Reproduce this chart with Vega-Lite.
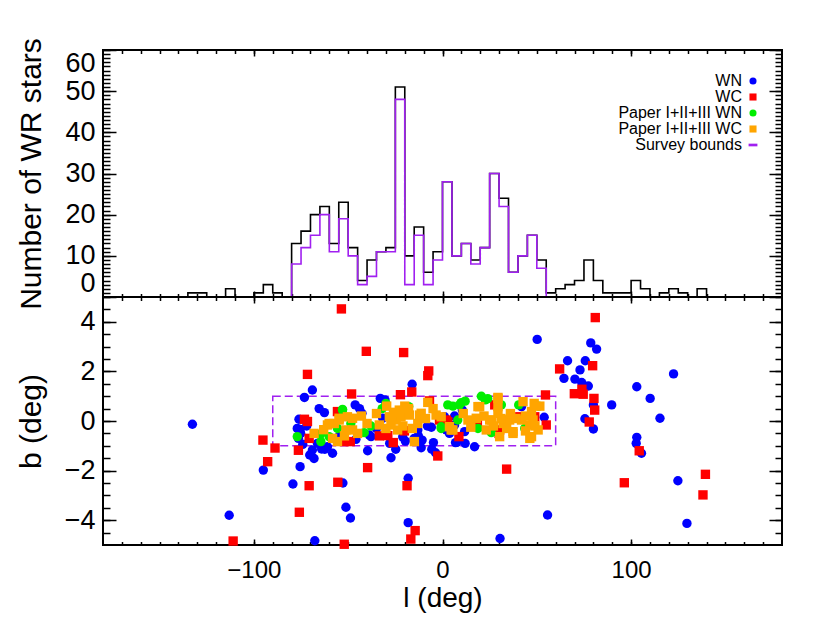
{
  "$schema": "https://vega.github.io/schema/vega-lite/v6.json",
  "autosize": {"type": "none"},
  "padding": {"left": 103, "top": 50, "right": 727, "bottom": 573},
  "background": "white",
  "config": {
    "font": "Liberation Sans",
    "view": {"stroke": "black", "strokeWidth": 2},
    "axis": {"domain": false, "grid": false, "tickColor": "black", "tickWidth": 1.5, "labelColor": "black", "titleColor": "black", "labelFont": "Liberation Sans", "titleFont": "Liberation Sans", "labelFontSize": 27, "titleFontSize": 30, "titleFontWeight": "normal"}
  },
  "datasets": {
    "all": [
      {"l": -180, "n": 0}, {"l": -140, "n": 0}, {"l": -135, "n": 1}, {"l": -130, "n": 1}, {"l": -125, "n": 0}, {"l": -120, "n": 0},
      {"l": -115, "n": 2}, {"l": -110, "n": 0}, {"l": -105, "n": 0}, {"l": -100, "n": 1}, {"l": -95, "n": 3}, {"l": -90, "n": 1},
      {"l": -85, "n": 0}, {"l": -80, "n": 13}, {"l": -75, "n": 16}, {"l": -70, "n": 20}, {"l": -65, "n": 22}, {"l": -60, "n": 13},
      {"l": -55, "n": 23}, {"l": -50, "n": 12}, {"l": -45, "n": 4}, {"l": -40, "n": 9}, {"l": -35, "n": 11}, {"l": -30, "n": 12},
      {"l": -25, "n": 51}, {"l": -20, "n": 10}, {"l": -15, "n": 17}, {"l": -10, "n": 6}, {"l": -5, "n": 11}, {"l": 0, "n": 28},
      {"l": 5, "n": 10}, {"l": 10, "n": 13}, {"l": 15, "n": 9}, {"l": 20, "n": 12}, {"l": 25, "n": 30}, {"l": 30, "n": 24},
      {"l": 35, "n": 6}, {"l": 40, "n": 10}, {"l": 45, "n": 15}, {"l": 50, "n": 9}, {"l": 55, "n": 1}, {"l": 60, "n": 2},
      {"l": 65, "n": 3}, {"l": 70, "n": 4}, {"l": 75, "n": 9}, {"l": 80, "n": 4}, {"l": 85, "n": 1}, {"l": 90, "n": 1},
      {"l": 95, "n": 1}, {"l": 100, "n": 4}, {"l": 105, "n": 2}, {"l": 110, "n": 0}, {"l": 115, "n": 1}, {"l": 120, "n": 2},
      {"l": 125, "n": 1}, {"l": 130, "n": 0}, {"l": 135, "n": 2}, {"l": 140, "n": 0}, {"l": 180, "n": 0}
    ],
    "surv": [
      {"l": -80, "n": 0}, {"l": -80, "n": 8}, {"l": -75, "n": 12}, {"l": -70, "n": 15}, {"l": -65, "n": 20}, {"l": -60, "n": 11},
      {"l": -55, "n": 19}, {"l": -50, "n": 10}, {"l": -45, "n": 3}, {"l": -40, "n": 5}, {"l": -35, "n": 11}, {"l": -30, "n": 11},
      {"l": -25, "n": 48}, {"l": -20, "n": 3}, {"l": -15, "n": 15}, {"l": -10, "n": 3}, {"l": -5, "n": 9}, {"l": 0, "n": 28},
      {"l": 5, "n": 10}, {"l": 10, "n": 13}, {"l": 15, "n": 8}, {"l": 20, "n": 12}, {"l": 25, "n": 30}, {"l": 30, "n": 22},
      {"l": 35, "n": 6}, {"l": 40, "n": 10}, {"l": 45, "n": 15}, {"l": 50, "n": 7}, {"l": 55, "n": 0}
    ],
    "box": [{"l1": -90, "l2": 60, "b1": -1, "b2": 1}],
    "pts": [
      {"c": "WN", "l": -132.6, "b": -0.13}, {"c": "WN", "l": -113.1, "b": -3.8}, {"c": "WN", "l": -67.7, "b": -4.83},
      {"c": "WN", "l": -95, "b": -1.98}, {"c": "WN", "l": -79.3, "b": -2.54}, {"c": "WN", "l": -75.5, "b": -1.84},
      {"c": "WN", "l": -52.8, "b": -2.5}, {"c": "WN", "l": -51.2, "b": -3.48}, {"c": "WN", "l": -48.8, "b": -3.91},
      {"c": "WN", "l": -18.2, "b": -2.31}, {"c": "WN", "l": -18.2, "b": -4.1}, {"c": "WN", "l": -69, "b": 1.25},
      {"c": "WN", "l": -73.2, "b": 0.95}, {"c": "WN", "l": -16.1, "b": 1.48}, {"c": "WN", "l": -65.4, "b": 0.5},
      {"c": "WN", "l": -62.6, "b": 0.34}, {"c": "WN", "l": -46.3, "b": 0.65}, {"c": "WN", "l": -42.7, "b": 0.31},
      {"c": "WN", "l": -33, "b": 0.91}, {"c": "WN", "l": -30.5, "b": 0.85}, {"c": "WN", "l": -76.1, "b": 0.07},
      {"c": "WN", "l": -39.7, "b": -1.2}, {"c": "WN", "l": -27.3, "b": -1.48}, {"c": "WN", "l": -24.8, "b": -1.14},
      {"c": "WN", "l": -11.3, "b": -1.08}, {"c": "WN", "l": -12.8, "b": -0.6}, {"c": "WN", "l": -4.8, "b": -0.87},
      {"c": "WN", "l": -5.7, "b": -1.14}, {"c": "WN", "l": -3.7, "b": -1.28}, {"c": "WN", "l": -5.9, "b": -0.25},
      {"c": "WN", "l": -19.7, "b": -0.81}, {"c": "WN", "l": -21.1, "b": -0.64}, {"c": "WN", "l": -58.3, "b": -1.3},
      {"c": "WN", "l": -68.1, "b": -1.51}, {"c": "WN", "l": -70.4, "b": -1.37}, {"c": "WN", "l": -62.4, "b": -1.14},
      {"c": "WN", "l": -64.1, "b": -1.13}, {"c": "WN", "l": -74.1, "b": -0.94}, {"c": "WN", "l": -75.5, "b": -0.34},
      {"c": "WN", "l": -76.4, "b": -0.7}, {"c": "WN", "l": 6.4, "b": 0.2}, {"c": "WN", "l": 6.9, "b": -0.87},
      {"c": "WN", "l": 50.2, "b": 3.29}, {"c": "WN", "l": 78.6, "b": 3.15}, {"c": "WN", "l": 81.7, "b": 2.9},
      {"c": "WN", "l": 66.3, "b": 2.43}, {"c": "WN", "l": 75.7, "b": 2.43}, {"c": "WN", "l": 72.9, "b": 2.06},
      {"c": "WN", "l": 64.4, "b": 1.72}, {"c": "WN", "l": 70.2, "b": 1.69}, {"c": "WN", "l": 73.8, "b": 1.55},
      {"c": "WN", "l": 77.3, "b": 1.41}, {"c": "WN", "l": 80, "b": 0.65}, {"c": "WN", "l": 75.5, "b": 0.09},
      {"c": "WN", "l": 80, "b": -0.32}, {"c": "WN", "l": 89.7, "b": 0.65}, {"c": "WN", "l": 103, "b": 1.38},
      {"c": "WN", "l": 110.1, "b": 0.91}, {"c": "WN", "l": 115.3, "b": 0.11}, {"c": "WN", "l": 122.5, "b": 1.9},
      {"c": "WN", "l": 103, "b": -0.66}, {"c": "WN", "l": 102.7, "b": -0.9}, {"c": "WN", "l": 105.5, "b": -1.3},
      {"c": "WN", "l": 124.8, "b": -2.41}, {"c": "WN", "l": 129.6, "b": -4.13}, {"c": "WN", "l": 55.7, "b": -3.79},
      {"c": "WN", "l": 30.5, "b": -4.74}, {"c": "WN", "l": 53.9, "b": 0.15}, {"c": "WN", "l": 17, "b": -1.04},
      {"c": "WN", "l": 7.6, "b": -0.86}, {"c": "WN", "l": -77, "b": -0.3}, {"c": "WN", "l": -75.2, "b": -0.5},
      {"c": "WN", "l": -66.3, "b": -0.9}, {"c": "WN", "l": -61, "b": -1.04}, {"c": "WN", "l": -45.9, "b": -0.74},
      {"c": "WN", "l": -10.8, "b": -0.77}, {"c": "WN", "l": -13.1, "b": -0.36}, {"c": "WN", "l": -38.8, "b": -0.56},
      {"c": "WN", "l": -31.7, "b": 0.11}, {"c": "WN", "l": -20.2, "b": -0.36}, {"c": "WN", "l": 1.1, "b": 0.17},
      {"c": "WN", "l": 6.4, "b": -0.16}, {"c": "WN", "l": 11.7, "b": -0.43}, {"c": "WN", "l": 41.9, "b": 0.58},
      {"c": "WN", "l": 10.5, "b": 0.44}, {"c": "WN", "l": -37.9, "b": -0.63}, {"c": "WN", "l": -54.8, "b": -0.63},
      {"c": "WN", "l": 0.2, "b": 0.11}, {"c": "WN", "l": 2, "b": -0.36}, {"c": "WN", "l": -69, "b": -1.17},
      {"c": "WN", "l": -62.8, "b": -1.1}, {"c": "WN", "l": 3.7, "b": -0.5}, {"c": "WN", "l": -35, "b": -0.3},
      {"c": "WN", "l": -28, "b": -0.9}, {"c": "WN", "l": -15, "b": -0.7}, {"c": "WN", "l": -8, "b": -0.2},
      {"c": "WN", "l": 12, "b": -0.9}, {"c": "WN", "l": -44, "b": 0.5}, {"c": "WN", "l": -72, "b": -0.2},
      {"c": "WC", "l": -53.6, "b": 4.52}, {"c": "WC", "l": -40.4, "b": 2.81}, {"c": "WC", "l": -20.6, "b": 2.76},
      {"c": "WC", "l": -71.6, "b": 1.88}, {"c": "WC", "l": -7.3, "b": 2.02}, {"c": "WC", "l": -7.8, "b": 1.83},
      {"c": "WC", "l": -48.2, "b": 1.09}, {"c": "WC", "l": -16.3, "b": 1.17}, {"c": "WC", "l": -22.3, "b": 1.06},
      {"c": "WC", "l": -6.9, "b": 0.81}, {"c": "WC", "l": -73.2, "b": 0.07}, {"c": "WC", "l": -71.6, "b": -0.02},
      {"c": "WC", "l": -95.2, "b": -0.77}, {"c": "WC", "l": -88.8, "b": -1.09}, {"c": "WC", "l": -92.7, "b": -1.64},
      {"c": "WC", "l": -76.4, "b": -1.18}, {"c": "WC", "l": -48.9, "b": -0.83}, {"c": "WC", "l": -26.1, "b": -0.87},
      {"c": "WC", "l": -2.5, "b": -1.41}, {"c": "WC", "l": -39.7, "b": -1.88}, {"c": "WC", "l": -55.5, "b": -2.47},
      {"c": "WC", "l": -70.7, "b": -2.61}, {"c": "WC", "l": -18.8, "b": -2.61}, {"c": "WC", "l": -75.9, "b": -3.68},
      {"c": "WC", "l": -14.5, "b": -4.42}, {"c": "WC", "l": -16.8, "b": -4.76}, {"c": "WC", "l": -111, "b": -4.84},
      {"c": "WC", "l": -52.1, "b": -4.97}, {"c": "WC", "l": 8.7, "b": -0.63}, {"c": "WC", "l": 81, "b": 4.17},
      {"c": "WC", "l": 79.6, "b": 2.23}, {"c": "WC", "l": 62.1, "b": 2.1}, {"c": "WC", "l": 73.9, "b": 1.28},
      {"c": "WC", "l": 69.9, "b": 1.1}, {"c": "WC", "l": 74.6, "b": 1.08}, {"c": "WC", "l": 80.3, "b": 0.91},
      {"c": "WC", "l": 80.7, "b": 0.44}, {"c": "WC", "l": 77.8, "b": -0.04}, {"c": "WC", "l": 54.6, "b": 1.05},
      {"c": "WC", "l": 55, "b": -0.16}, {"c": "WC", "l": 34, "b": -1.94}, {"c": "WC", "l": 104.3, "b": -1.2},
      {"c": "WC", "l": 96.4, "b": -2.49}, {"c": "WC", "l": 139.4, "b": -2.15}, {"c": "WC", "l": 138.1, "b": -2.98},
      {"c": "WC", "l": -55.7, "b": 0.38}, {"c": "WC", "l": -70.7, "b": -0.7}, {"c": "WC", "l": -52.1, "b": -0.83},
      {"c": "WC", "l": -33.5, "b": -0.6}, {"c": "WC", "l": -1.6, "b": 0.04}, {"c": "WC", "l": 2.8, "b": -0.03},
      {"c": "WC", "l": 17.9, "b": -0.1}, {"c": "WC", "l": 30.3, "b": -0.36}, {"c": "WC", "l": 48.9, "b": 0.17},
      {"c": "WC", "l": 2, "b": 0.04}, {"c": "WC", "l": 27.7, "b": 0.65}, {"c": "WC", "l": 41, "b": 0.17},
      {"c": "WC", "l": 18.5, "b": -0.16}, {"c": "WC", "l": 30, "b": -0.5}, {"c": "WC", "l": -29, "b": -0.59},
      {"c": "WC", "l": -20.2, "b": -0.4},
      {"c": "Paper I+II+III WN", "l": -53, "b": 0.44}, {"c": "Paper I+II+III WN", "l": -77, "b": -0.63},
      {"c": "Paper I+II+III WN", "l": -64.5, "b": -0.52}, {"c": "Paper I+II+III WN", "l": -64.5, "b": -0.83},
      {"c": "Paper I+II+III WN", "l": -60.1, "b": -0.63}, {"c": "Paper I+II+III WN", "l": -55.7, "b": -0.3},
      {"c": "Paper I+II+III WN", "l": -48.6, "b": -0.1}, {"c": "Paper I+II+III WN", "l": -30, "b": 0.71},
      {"c": "Paper I+II+III WN", "l": -17.9, "b": 0.58}, {"c": "Paper I+II+III WN", "l": -37.9, "b": -0.2},
      {"c": "Paper I+II+III WN", "l": -41.5, "b": -0.47}, {"c": "Paper I+II+III WN", "l": -0.7, "b": -0.3},
      {"c": "Paper I+II+III WN", "l": 5.5, "b": 0.6}, {"c": "Paper I+II+III WN", "l": 9.9, "b": 0.74},
      {"c": "Paper I+II+III WN", "l": 20.6, "b": 1.0}, {"c": "Paper I+II+III WN", "l": 22.7, "b": 0.85},
      {"c": "Paper I+II+III WN", "l": 31.2, "b": 0.65}, {"c": "Paper I+II+III WN", "l": 40.4, "b": 0.65},
      {"c": "Paper I+II+III WN", "l": 18.8, "b": -0.3}, {"c": "Paper I+II+III WN", "l": 25.9, "b": -0.47},
      {"c": "Paper I+II+III WN", "l": 43.6, "b": -0.3}, {"c": "Paper I+II+III WN", "l": 8.1, "b": 0.04},
      {"c": "Paper I+II+III WN", "l": 2.8, "b": 0.65}, {"c": "Paper I+II+III WN", "l": -0.7, "b": -0.23},
      {"c": "Paper I+II+III WN", "l": 9, "b": 0.65}, {"c": "Paper I+II+III WN", "l": 51, "b": 0.6},
      {"c": "Paper I+II+III WN", "l": -53, "b": 0.47}, {"c": "Paper I+II+III WN", "l": -32, "b": 0.5},
      {"c": "Paper I+II+III WN", "l": 24, "b": 0.9}, {"c": "Paper I+II+III WN", "l": 12, "b": 0.8},
      {"c": "Paper I+II+III WC", "l": -68.1, "b": -0.5}, {"c": "Paper I+II+III WC", "l": -61, "b": -0.16},
      {"c": "Paper I+II+III WC", "l": -57.4, "b": -0.1}, {"c": "Paper I+II+III WC", "l": -54.8, "b": 0.04},
      {"c": "Paper I+II+III WC", "l": -50.4, "b": 0.17}, {"c": "Paper I+II+III WC", "l": -51.2, "b": -0.36},
      {"c": "Paper I+II+III WC", "l": -58.3, "b": -0.7}, {"c": "Paper I+II+III WC", "l": -55.7, "b": -0.83},
      {"c": "Paper I+II+III WC", "l": -29.6, "b": 0.6}, {"c": "Paper I+II+III WC", "l": -7.8, "b": 0.75},
      {"c": "Paper I+II+III WC", "l": -22.9, "b": 0.44}, {"c": "Paper I+II+III WC", "l": -28.2, "b": 0.17},
      {"c": "Paper I+II+III WC", "l": -24.6, "b": 0.04}, {"c": "Paper I+II+III WC", "l": -22, "b": 0.17},
      {"c": "Paper I+II+III WC", "l": -17.6, "b": 0.24}, {"c": "Paper I+II+III WC", "l": -11.3, "b": 0.31},
      {"c": "Paper I+II+III WC", "l": -13.1, "b": -0.1}, {"c": "Paper I+II+III WC", "l": -3.4, "b": 0.24},
      {"c": "Paper I+II+III WC", "l": -47.7, "b": -0.36}, {"c": "Paper I+II+III WC", "l": -47.7, "b": 0.11},
      {"c": "Paper I+II+III WC", "l": -33.5, "b": -0.16}, {"c": "Paper I+II+III WC", "l": -30, "b": -0.3},
      {"c": "Paper I+II+III WC", "l": -23.8, "b": -0.36}, {"c": "Paper I+II+III WC", "l": -27.3, "b": -0.16},
      {"c": "Paper I+II+III WC", "l": -14.9, "b": -0.83}, {"c": "Paper I+II+III WC", "l": 18.8, "b": 0.58},
      {"c": "Paper I+II+III WC", "l": 29.4, "b": 0.95}, {"c": "Paper I+II+III WC", "l": 29.4, "b": 0.58},
      {"c": "Paper I+II+III WC", "l": 42.7, "b": 0.78}, {"c": "Paper I+II+III WC", "l": 48.6, "b": 0.71},
      {"c": "Paper I+II+III WC", "l": 51.6, "b": 0.6}, {"c": "Paper I+II+III WC", "l": 47.2, "b": 0.38},
      {"c": "Paper I+II+III WC", "l": 13.5, "b": 0.04}, {"c": "Paper I+II+III WC", "l": 17.9, "b": 0.11},
      {"c": "Paper I+II+III WC", "l": 5.5, "b": -0.36}, {"c": "Paper I+II+III WC", "l": 23.2, "b": -0.36},
      {"c": "Paper I+II+III WC", "l": 25.9, "b": 0.04}, {"c": "Paper I+II+III WC", "l": 29.4, "b": 0.31},
      {"c": "Paper I+II+III WC", "l": 32.1, "b": -0.1}, {"c": "Paper I+II+III WC", "l": 30.3, "b": -0.63},
      {"c": "Paper I+II+III WC", "l": 37.4, "b": -0.43}, {"c": "Paper I+II+III WC", "l": 41.9, "b": 0.04},
      {"c": "Paper I+II+III WC", "l": 47.2, "b": -0.63}, {"c": "Paper I+II+III WC", "l": 50.7, "b": -0.36},
      {"c": "Paper I+II+III WC", "l": 46.3, "b": -0.16}, {"c": "Paper I+II+III WC", "l": 35.6, "b": 0.04},
      {"c": "Paper I+II+III WC", "l": 3.7, "b": -0.23}, {"c": "Paper I+II+III WC", "l": 46.3, "b": -0.7},
      {"c": "Paper I+II+III WC", "l": 37.4, "b": -0.5}, {"c": "Paper I+II+III WC", "l": 4.6, "b": -0.36},
      {"c": "Paper I+II+III WC", "l": -0.7, "b": 0.17}, {"c": "Paper I+II+III WC", "l": 19.7, "b": 0.58},
      {"c": "Paper I+II+III WC", "l": 25, "b": 0.04}, {"c": "Paper I+II+III WC", "l": 33.9, "b": 0.04},
      {"c": "Paper I+II+III WC", "l": 48, "b": 0.04}, {"c": "Paper I+II+III WC", "l": -12.2, "b": 0.24},
      {"c": "Paper I+II+III WC", "l": -54.8, "b": 0.11}, {"c": "Paper I+II+III WC", "l": -60.1, "b": -0.1},
      {"c": "Paper I+II+III WC", "l": 29.4, "b": 0.91}, {"c": "Paper I+II+III WC", "l": -35, "b": 0.3},
      {"c": "Paper I+II+III WC", "l": -20, "b": 0.6}, {"c": "Paper I+II+III WC", "l": -5, "b": 0.5},
      {"c": "Paper I+II+III WC", "l": 36, "b": 0.3}, {"c": "Paper I+II+III WC", "l": 44, "b": 0.2},
      {"c": "Paper I+II+III WC", "l": -40, "b": -0.1}, {"c": "Paper I+II+III WC", "l": -26, "b": 0.35},
      {"c": "Paper I+II+III WC", "l": -21, "b": -0.2}, {"c": "Paper I+II+III WC", "l": -18, "b": 0.5},
      {"c": "Paper I+II+III WC", "l": -16, "b": -0.3}, {"c": "Paper I+II+III WC", "l": -9, "b": 0.1},
      {"c": "Paper I+II+III WC", "l": -43, "b": 0.2}, {"c": "Paper I+II+III WC", "l": -45, "b": -0.5},
      {"c": "Paper I+II+III WC", "l": 22, "b": 0.2}, {"c": "Paper I+II+III WC", "l": 27, "b": -0.2},
      {"c": "Paper I+II+III WC", "l": 31, "b": 0.1}, {"c": "Paper I+II+III WC", "l": 34, "b": -0.3},
      {"c": "Paper I+II+III WC", "l": 39, "b": 0.1}, {"c": "Paper I+II+III WC", "l": 44, "b": -0.4},
      {"c": "Paper I+II+III WC", "l": 49, "b": -0.2}, {"c": "Paper I+II+III WC", "l": 15, "b": -0.25},
      {"c": "Paper I+II+III WC", "l": 11, "b": 0.3}, {"c": "Paper I+II+III WC", "l": -63, "b": -0.35},
      {"c": "Paper I+II+III WC", "l": -52, "b": -0.6}
    ]
  },
  "spacing": 0,
  "bounds": "flush",
  "vconcat": [
    {
      "width": 679,
      "height": 247,
      "layer": [
        {
          "data": {"name": "all"},
          "mark": {"type": "line", "interpolate": "step-after", "color": "black", "strokeWidth": 1.6},
          "encoding": {
            "x": {"field": "l", "type": "quantitative", "scale": {"domain": [-180, 180], "nice": false, "zero": false},
                  "axis": {"orient": "bottom", "values": [-100, 0, 100], "labels": false, "tickSize": -6, "title": null}},
            "y": {"field": "n", "type": "quantitative", "scale": {"domain": [0, 60], "nice": false},
                  "axis": {"orient": "left", "values": [0, 10, 20, 30, 40, 50, 60], "tickSize": -13, "labelPadding": 21, "labelFlush": true,
                           "title": "Number of WR stars", "titleX": -57, "titleY": 123.5}}
          }
        },
        {
          "data": {"name": "surv"},
          "mark": {"type": "line", "interpolate": "step-after", "color": "#a020f0", "strokeWidth": 1.6},
          "encoding": {
            "x": {"field": "l", "type": "quantitative",
                  "axis": {"orient": "top", "values": [-100, 0, 100], "labels": false, "tickSize": -6, "title": null}},
            "y": {"field": "n", "type": "quantitative",
                  "axis": {"orient": "right", "values": [0, 10, 20, 30, 40, 50, 60], "labels": false, "tickSize": -13, "title": null}}
          }
        },
        {
          "data": {"name": "all"},
          "mark": {"type": "point", "opacity": 0},
          "encoding": {
            "x": {"field": "l", "type": "quantitative",
                  "axis": {"orient": "bottom", "values": [-170,-160,-150,-140,-130,-120,-110,-100,-90,-80,-70,-60,-50,-40,-30,-20,-10,0,10,20,30,40,50,60,70,80,90,100,110,120,130,140,150,160,170], "labels": false, "tickSize": -3.5, "title": null}},
            "y": {"field": "n", "type": "quantitative",
                  "axis": {"orient": "left", "values": [0,1,2,3,4,5,6,7,8,9,10,11,12,13,14,15,16,17,18,19,20,21,22,23,24,25,26,27,28,29,30,31,32,33,34,35,36,37,38,39,40,41,42,43,44,45,46,47,48,49,50,51,52,53,54,55,56,57,58,59,60], "labels": false, "tickSize": -7, "title": null}}
          }
        },
        {
          "data": {"name": "all"},
          "mark": {"type": "point", "opacity": 0},
          "encoding": {
            "x": {"field": "l", "type": "quantitative",
                  "axis": {"orient": "top", "values": [-170,-160,-150,-140,-130,-120,-110,-100,-90,-80,-70,-60,-50,-40,-30,-20,-10,0,10,20,30,40,50,60,70,80,90,100,110,120,130,140,150,160,170], "labels": false, "tickSize": -3.5, "title": null}},
            "y": {"field": "n", "type": "quantitative",
                  "axis": {"orient": "right", "values": [0,1,2,3,4,5,6,7,8,9,10,11,12,13,14,15,16,17,18,19,20,21,22,23,24,25,26,27,28,29,30,31,32,33,34,35,36,37,38,39,40,41,42,43,44,45,46,47,48,49,50,51,52,53,54,55,56,57,58,59,60], "labels": false, "tickSize": -7, "title": null}}
          }
        }
      ],
      "resolve": {"axis": {"x": "independent", "y": "independent"}}
    },
    {
      "width": 679,
      "height": 248,
      "layer": [
        {
          "data": {"name": "box"},
          "mark": {"type": "rect", "filled": false, "fill": null, "stroke": "#a020f0", "strokeWidth": 1.5, "strokeDash": [8, 4]},
          "encoding": {
            "x": {"field": "l1", "type": "quantitative", "scale": {"domain": [-180, 180], "nice": false, "zero": false},
                  "axis": {"orient": "bottom", "values": [-100, 0, 100], "tickSize": -6, "labelPadding": 19, "labelFontSize": 24, "title": "l (deg)", "titleFontSize": 28, "titleX": 339.5, "titleY": 39}},
            "x2": {"field": "l2"},
            "y": {"field": "b1", "type": "quantitative", "scale": {"domain": [-5, 5], "nice": false, "zero": false},
                  "axis": {"orient": "left", "values": [-4, -2, 0, 2, 4], "tickSize": -13, "labelPadding": 21, "title": "b (deg)", "titleX": -57, "titleY": 124}},
            "y2": {"field": "b2"}
          }
        },
        {
          "data": {"name": "pts"},
          "mark": {"type": "point", "filled": true, "opacity": 1, "size": 88, "strokeWidth": 0},
          "encoding": {
            "x": {"field": "l", "type": "quantitative",
                  "axis": {"orient": "top", "values": [-100, 0, 100], "labels": false, "tickSize": -6, "title": null}},
            "y": {"field": "b", "type": "quantitative",
                  "axis": {"orient": "right", "values": [-4, -2, 0, 2, 4], "labels": false, "tickSize": -13, "title": null}},
            "color": {"field": "c", "type": "nominal",
                      "scale": {"domain": ["WN", "WC", "Paper I+II+III WN", "Paper I+II+III WC", "Survey bounds"], "range": ["#0000ff", "#ff0000", "#00ee00", "#ffa500", "#a020f0"]},
                      "legend": {"orient": "none", "legendX": 642, "legendY": 23, "title": null, "labelAlign": "right", "labelOffset": -19, "labelFontSize": 16, "labelFont": "Liberation Sans", "labelColor": "black", "symbolSize": 50, "rowPadding": 0, "padding": 0, "labelLimit": 400, "symbolStrokeWidth": 0}},
            "shape": {"field": "c", "type": "nominal",
                      "scale": {"domain": ["WN", "WC", "Paper I+II+III WN", "Paper I+II+III WC", "Survey bounds"], "range": ["circle", "square", "circle", "square", "M-1.25,-0.38H1.25V0.38H-1.25Z"]},
                      "legend": {"orient": "none", "legendX": 642, "legendY": 23, "title": null, "labelAlign": "right", "labelOffset": -19, "labelFontSize": 16, "labelFont": "Liberation Sans", "labelColor": "black", "symbolSize": 50, "rowPadding": 0, "padding": 0, "labelLimit": 400, "symbolStrokeWidth": 0}}
          }
        },
        {
          "data": {"name": "pts"},
          "mark": {"type": "point", "opacity": 0},
          "encoding": {
            "x": {"field": "l", "type": "quantitative",
                  "axis": {"orient": "bottom", "values": [-170,-160,-150,-140,-130,-120,-110,-100,-90,-80,-70,-60,-50,-40,-30,-20,-10,0,10,20,30,40,50,60,70,80,90,100,110,120,130,140,150,160,170], "labels": false, "tickSize": -3.5, "title": null}},
            "y": {"field": "b", "type": "quantitative",
                  "axis": {"orient": "left", "values": [-4.5,-4,-3.5,-3,-2.5,-2,-1.5,-1,-0.5,0,0.5,1,1.5,2,2.5,3,3.5,4,4.5], "labels": false, "tickSize": -7, "title": null}}
          }
        },
        {
          "data": {"name": "pts"},
          "mark": {"type": "point", "opacity": 0},
          "encoding": {
            "x": {"field": "l", "type": "quantitative",
                  "axis": {"orient": "top", "values": [-170,-160,-150,-140,-130,-120,-110,-100,-90,-80,-70,-60,-50,-40,-30,-20,-10,0,10,20,30,40,50,60,70,80,90,100,110,120,130,140,150,160,170], "labels": false, "tickSize": -3.5, "title": null}},
            "y": {"field": "b", "type": "quantitative",
                  "axis": {"orient": "right", "values": [-4.5,-4,-3.5,-3,-2.5,-2,-1.5,-1,-0.5,0,0.5,1,1.5,2,2.5,3,3.5,4,4.5], "labels": false, "tickSize": -7, "title": null}}
          }
        }
      ],
      "resolve": {"axis": {"x": "independent", "y": "independent"}}
    }
  ]
}
